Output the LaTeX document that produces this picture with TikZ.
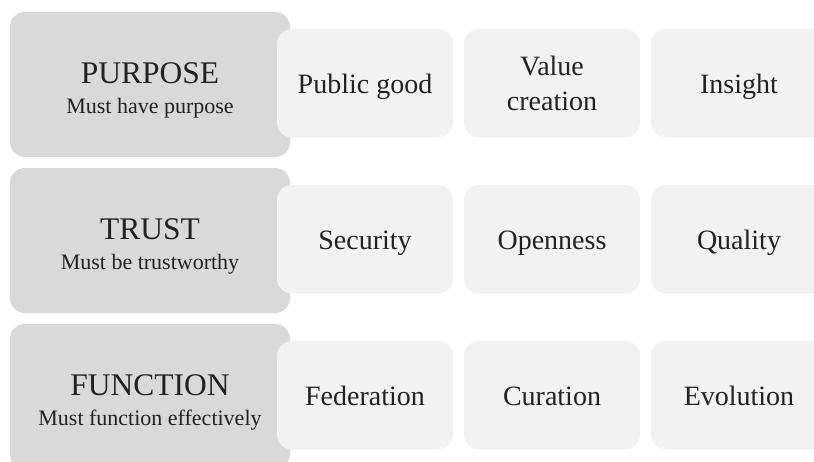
\documentclass[tikz,border=0pt]{standalone}
\usepackage{fontspec}
\setmainfont{Liberation Serif}
\begin{document}
\begin{tikzpicture}[x=1pt, y=-1pt,
  bigbox/.style={fill=pillar, draw=none, rounded corners=15pt, minimum width=280pt, minimum height=145pt, inner sep=0pt},
  itembox/.style={fill=item, draw=none, rounded corners=15pt, minimum width=176pt, minimum height=108.5pt, inner sep=0pt},
  heading/.style={text=ink, inner sep=0pt, font=\fontsize{31.5}{35}\selectfont},
  subline/.style={text=ink, inner sep=0pt, font=\fontsize{22}{26}\selectfont},
  itemtext/.style={text=ink, inner sep=0pt, align=center, font=\fontsize{28}{35}\selectfont}
]
\definecolor{pillar}{HTML}{D9D9D9}
\definecolor{item}{HTML}{F2F2F2}
\definecolor{ink}{HTML}{222222}
\useasboundingbox (0,0) rectangle (814,461);
\clip (0,0) rectangle (814,461);

% three pillars, one per row (row pitch 156)
\foreach \row/\name/\title/\sub in {0/purpose/PURPOSE/Must have purpose,
                                    1/trust/TRUST/Must be trustworthy,
                                    2/function/FUNCTION/Must function effectively}{
  \node[bigbox] (\name) at (150, 84.5+156*\row) {};
  \node[heading, anchor=base] (\name-title) at (150, 83+156*\row) {\title};
  \node[subline, anchor=base] (\name-sub) at (150, 113+156*\row) {\sub};
}

% item cards
\foreach \row/\col/\name in {0/0/good,0/1/value,0/2/insight,
                             1/0/security,1/1/openness,1/2/quality,
                             2/0/federation,2/1/curation,2/2/evolution}{
  \node[itembox] (\name) at (365+187*\col, 83.25+156*\row) {};
}

% item labels (single lines sit with caps centred on the card;
% the base anchor of a two-line label is its last line)
\node[itemtext, anchor=base] (good-t)       at (365, 93.75)  {Public good};
\node[itemtext, anchor=base] (value-t)      at (552, 110.7)  {Value\\creation};
\node[itemtext, anchor=base] (insight-t)    at (739, 93.75)  {Insight};
\node[itemtext, anchor=base] (security-t)   at (365, 249.75) {Security};
\node[itemtext, anchor=base] (openness-t)   at (552, 249.75) {Openness};
\node[itemtext, anchor=base] (quality-t)    at (739, 249.75) {Quality};
\node[itemtext, anchor=base] (federation-t) at (365, 405.75) {Federation};
\node[itemtext, anchor=base] (curation-t)   at (552, 405.75) {Curation};
\node[itemtext, anchor=base] (evolution-t)  at (739, 405.75) {Evolution};
\end{tikzpicture}
\end{document}
